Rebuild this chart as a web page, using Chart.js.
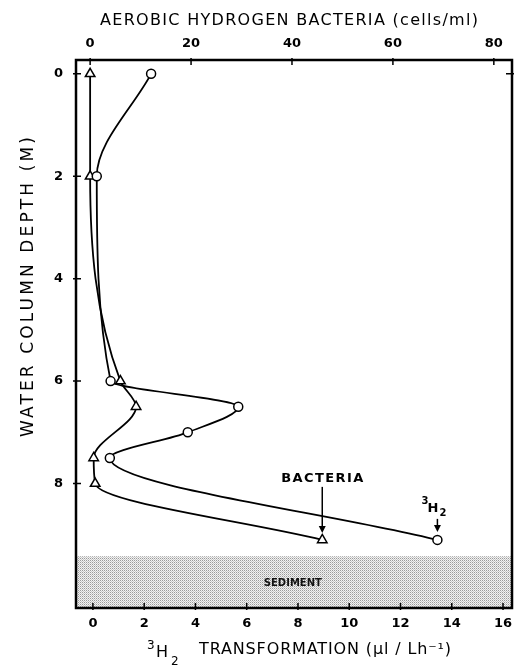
<!DOCTYPE html>
<html>
<head>
<meta charset="utf-8">
<script src="https://cdn.jsdelivr.net/npm/chart.js@4.4.0/dist/chart.umd.min.js"></script>
<style>
  html, body { margin: 0; padding: 0; background: #fff; }
  #wrap { width: 520px; height: 667px; }
</style>
</head>
<body>
<div id="wrap"><canvas id="myChartDepth"></canvas></div>
<script>
// 3H2 transformation (bottom axis) vs depth
const h2Depths = [0, 2, 6, 6.5, 7, 7.5, 9.1];
const h2Values = [2.27, 0.15, 0.69, 5.67, 3.70, 0.66, 13.44];
// aerobic hydrogen bacteria (top axis) vs depth
const bactDepths = [0, 2, 6, 6.5, 7.5, 8, 9.1];
const bactValues = [0, 0, 6, 9.1, 0.7, 1, 46];

const depthTicks = [0, 2, 4, 6, 8];
const h2Ticks = [0, 2, 4, 6, 8, 10, 12, 14, 16];
const bactTicks = [0, 20, 40, 60, 80];
const sedimentTop = 9.42;

const FONT = '"DejaVu Sans", "Liberation Sans", sans-serif';

// dotted screen for the sediment band
const pc = document.createElement('canvas');
pc.width = 2; pc.height = 2;
const p = pc.getContext('2d');
p.fillStyle = '#f2f2f2'; p.fillRect(0, 0, 2, 2);
p.fillStyle = '#9a9a9a'; p.fillRect(0, 0, 1, 1);
p.fillStyle = '#c8c8c8'; p.fillRect(1, 1, 1, 1);

function fixTicks(list) {
  return function (scale) { scale.ticks = list.map(v => ({ value: v })); };
}
function fixSize(prop, size) {
  return function (scale) {
    scale[prop] = size;
    scale.paddingLeft = scale.paddingRight = scale.paddingTop = scale.paddingBottom = 0;
  };
}
// draw text left-aligned and stretched to a given width
function spaced(ctx, text, x, y, width) {
  ctx.letterSpacing = '0px';
  const w = ctx.measureText(text).width;
  ctx.letterSpacing = Math.max(0, (width - w) / (text.length - 1)) + 'px';
  ctx.fillText(text, x, y);
  ctx.letterSpacing = '0px';
}

const decor = {
  id: 'decor',
  beforeDatasetsDraw(chart) {
    const { ctx, chartArea: a, scales } = chart;
    const yTop = scales.y.getPixelForValue(sedimentTop);
    ctx.save();
    ctx.fillStyle = ctx.createPattern(pc, 'repeat');
    ctx.fillRect(a.left, yTop, a.right - a.left, a.bottom - yTop);
    ctx.font = 'bold 10px ' + FONT;
    ctx.fillStyle = '#111';
    ctx.textAlign = 'center';
    ctx.textBaseline = 'middle';
    ctx.fillText('SEDIMENT', scales.x.getPixelForValue(7.8), (yTop + a.bottom) / 2 + 1);
    ctx.restore();
  },
  afterDraw(chart) {
    const { ctx, chartArea: a, scales } = chart;
    ctx.save();
    ctx.strokeStyle = '#000';
    ctx.fillStyle = '#000';
    ctx.lineWidth = 2.5;
    ctx.strokeRect(a.left, a.top, a.right - a.left, a.bottom - a.top);

    // tick marks, mostly inside the frame
    ctx.lineWidth = 1.5;
    ctx.beginPath();
    h2Ticks.forEach(v => {
      const x = scales.x.getPixelForValue(v);
      ctx.moveTo(x, a.bottom + 2); ctx.lineTo(x, a.bottom - 5);
    });
    bactTicks.forEach(v => {
      const x = scales.x2.getPixelForValue(v);
      ctx.moveTo(x, a.top - 2); ctx.lineTo(x, a.top + 5);
    });
    depthTicks.forEach(v => {
      const y = scales.y.getPixelForValue(v);
      ctx.moveTo(a.left - 3, y); ctx.lineTo(a.left + 5, y);
    });
    const y0 = scales.y.getPixelForValue(0);
    ctx.moveTo(a.right + 2, y0); ctx.lineTo(a.right - 6, y0);
    ctx.stroke();

    // axis titles
    ctx.textAlign = 'left';
    ctx.textBaseline = 'alphabetic';
    ctx.font = '16px ' + FONT;
    spaced(ctx, 'AEROBIC HYDROGEN BACTERIA (cells/ml)', 100, 25, 378);

    ctx.font = '16px ' + FONT;
    spaced(ctx, 'TRANSFORMATION (µl / Lh⁻¹)', 199, 654, 252);
    ctx.font = '12px ' + FONT;
    ctx.fillText('3', 147, 649);
    ctx.font = '16px ' + FONT;
    ctx.fillText('H', 156, 657);
    ctx.font = '12px ' + FONT;
    ctx.fillText('2', 171, 665);

    ctx.save();
    ctx.translate(33, 437);
    ctx.rotate(-Math.PI / 2);
    ctx.font = '17px ' + FONT;
    spaced(ctx, 'WATER COLUMN DEPTH (M)', 0, 0, 300);
    ctx.restore();

    // labels with arrows at the deepest points
    const bx = scales.x2.getPixelForValue(bactValues[bactValues.length - 1]);
    const by = scales.y.getPixelForValue(bactDepths[bactDepths.length - 1]);
    const hx = scales.x.getPixelForValue(h2Values[h2Values.length - 1]);
    const hy = scales.y.getPixelForValue(h2Depths[h2Depths.length - 1]);
    ctx.font = 'bold 13px ' + FONT;
    spaced(ctx, 'BACTERIA', bx - 41, by - 58, 82);
    ctx.font = 'bold 10px ' + FONT;
    ctx.fillText('3', hx - 16, hy - 36);
    ctx.font = 'bold 13px ' + FONT;
    ctx.fillText('H', hx - 10, hy - 28);
    ctx.font = 'bold 10px ' + FONT;
    ctx.fillText('2', hx + 2, hy - 24);

    ctx.lineWidth = 1.5;
    function arrow(x, y1, y2) {
      ctx.beginPath(); ctx.moveTo(x, y1); ctx.lineTo(x, y2 - 3); ctx.stroke();
      ctx.beginPath(); ctx.moveTo(x - 3.5, y2 - 7); ctx.lineTo(x + 3.5, y2 - 7); ctx.lineTo(x, y2); ctx.closePath(); ctx.fill();
    }
    arrow(bx, by - 53, by - 7);
    arrow(hx, hy - 21, hy - 8);
    ctx.restore();
  }
};

new Chart(document.getElementById('myChartDepth'), {
  type: 'scatter',
  data: {
    datasets: [{
      label: '3H2',
      data: h2Depths.map((d, i) => ({ x: h2Values[i], y: d })),
      xAxisID: 'x',
      yAxisID: 'y',
      showLine: true,
      cubicInterpolationMode: 'monotone',
      borderColor: '#000',
      borderWidth: 1.8,
      pointStyle: 'circle',
      pointRadius: 4.5,
      pointBackgroundColor: '#fff',
      pointBorderColor: '#000',
      pointBorderWidth: 1.5
    }, {
      label: 'Bacteria',
      data: bactDepths.map((d, i) => ({ x: bactValues[i], y: d })),
      xAxisID: 'x2',
      yAxisID: 'y',
      showLine: true,
      cubicInterpolationMode: 'monotone',
      borderColor: '#000',
      borderWidth: 1.8,
      pointStyle: 'triangle',
      pointRadius: 5.5,
      pointBackgroundColor: '#fff',
      pointBorderColor: '#000',
      pointBorderWidth: 1.5
    }]
  },
  options: {
    indexAxis: 'y',
    responsive: true,
    maintainAspectRatio: false,
    animation: false,
    layout: { padding: { left: 0, right: 8, top: 0, bottom: 0 } },
    plugins: { legend: { display: false }, tooltip: { enabled: false } },
    scales: {
      x: {
        type: 'linear', position: 'bottom', min: -0.66, max: 16.35,
        afterBuildTicks: fixTicks(h2Ticks),
        afterFit: fixSize('height', 59),
        grid: { display: false, drawTicks: false },
        border: { display: false },
        ticks: { padding: 8, color: '#000', font: { family: FONT, size: 13, weight: 'bold' } }
      },
      x2: {
        type: 'linear', position: 'top', min: -2.8, max: 83.6,
        afterBuildTicks: fixTicks(bactTicks),
        afterFit: fixSize('height', 60),
        grid: { display: false, drawTicks: false },
        border: { display: false },
        ticks: { padding: 9, color: '#000', font: { family: FONT, size: 13, weight: 'bold' } }
      },
      y: {
        type: 'linear', position: 'left', reverse: true, min: -0.27, max: 10.43,
        afterBuildTicks: fixTicks(depthTicks),
        afterFit: fixSize('width', 76),
        grid: { display: false, drawTicks: false },
        border: { display: false },
        ticks: { padding: 13, color: '#000', font: { family: FONT, size: 13, weight: 'bold' } }
      }
    }
  },
  plugins: [decor]
});
</script>
</body>
</html>
